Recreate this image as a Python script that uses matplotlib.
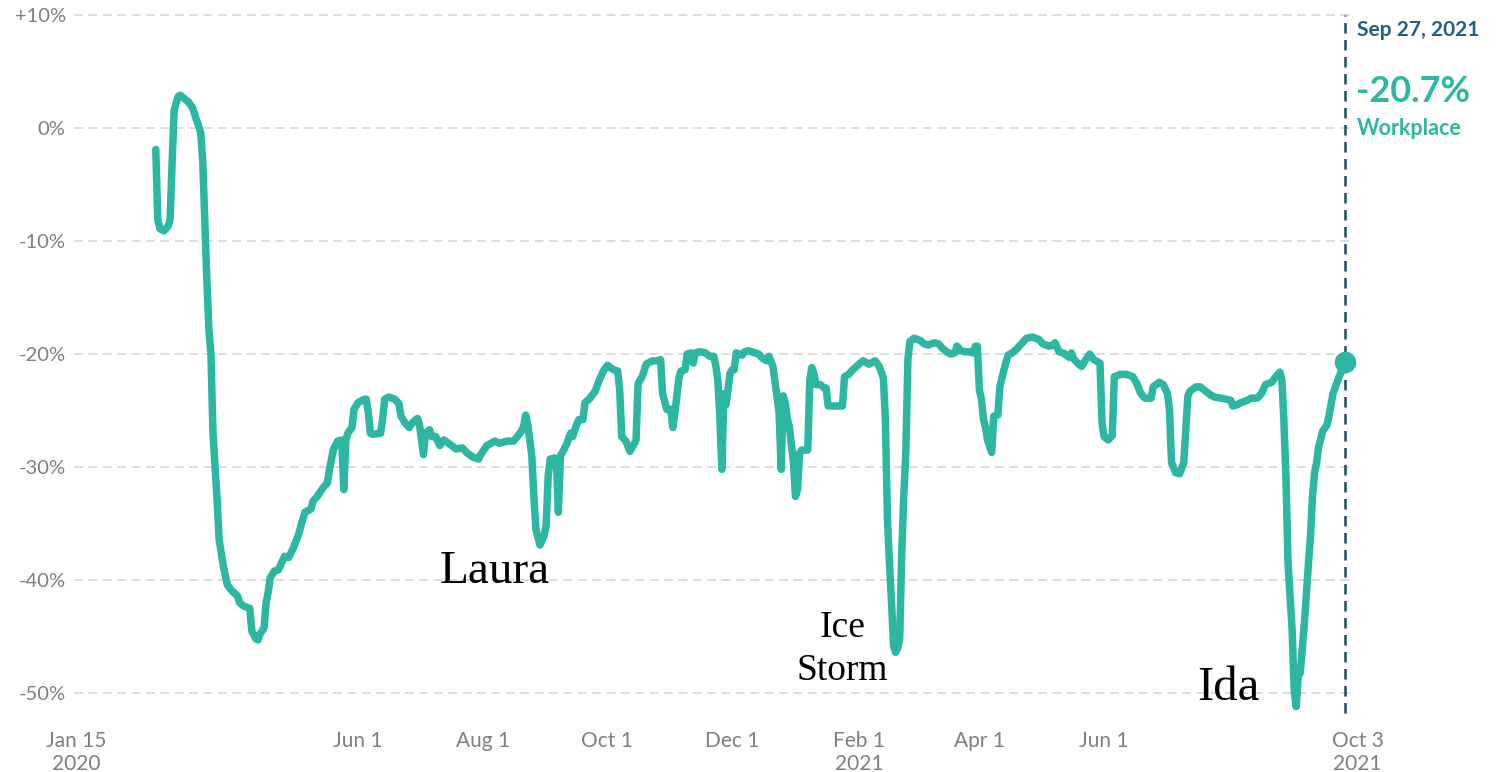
import matplotlib
matplotlib.use("Agg")
import matplotlib.pyplot as plt
import pandas as pd

# ---------------- data ----------------
dates_2020 = [
    "2020-02-23", "2020-02-24", "2020-02-25", "2020-02-27", "2020-02-29", "2020-03-01", "2020-03-02",
    "2020-03-03", "2020-03-05", "2020-03-06", "2020-03-08", "2020-03-10", "2020-03-12", "2020-03-14",
    "2020-03-16", "2020-03-17", "2020-03-18", "2020-03-19", "2020-03-20", "2020-03-21", "2020-03-22",
    "2020-03-24", "2020-03-25", "2020-03-27", "2020-03-29", "2020-03-31", "2020-04-03", "2020-04-04",
    "2020-04-06", "2020-04-09", "2020-04-10", "2020-04-12", "2020-04-13", "2020-04-14", "2020-04-16",
    "2020-04-17", "2020-04-18", "2020-04-19", "2020-04-21", "2020-04-23", "2020-04-26", "2020-04-28",
    "2020-04-30", "2020-05-03", "2020-05-04", "2020-05-06", "2020-05-09", "2020-05-10", "2020-05-12",
    "2020-05-15", "2020-05-17", "2020-05-18", "2020-05-20", "2020-05-22", "2020-05-24", "2020-05-25",
    "2020-05-26", "2020-05-27", "2020-05-29", "2020-05-30", "2020-06-01", "2020-06-04", "2020-06-05",
    "2020-06-06", "2020-06-07", "2020-06-08", "2020-06-12", "2020-06-13", "2020-06-14", "2020-06-16",
    "2020-06-19", "2020-06-21", "2020-06-22", "2020-06-24", "2020-06-26", "2020-06-28", "2020-06-30",
    "2020-07-01", "2020-07-03", "2020-07-04", "2020-07-06", "2020-07-07", "2020-07-09", "2020-07-11",
    "2020-07-13", "2020-07-16", "2020-07-19", "2020-07-22", "2020-07-24", "2020-07-27", "2020-07-30",
    "2020-07-31", "2020-08-03", "2020-08-07", "2020-08-09", "2020-08-13", "2020-08-16", "2020-08-18",
    "2020-08-20", "2020-08-21", "2020-08-22", "2020-08-23", "2020-08-25", "2020-08-26", "2020-08-27",
    "2020-08-29", "2020-08-31", "2020-09-01", "2020-09-02", "2020-09-03", "2020-09-05", "2020-09-06",
    "2020-09-07", "2020-09-08", "2020-09-09", "2020-09-11", "2020-09-13", "2020-09-14", "2020-09-16",
    "2020-09-17", "2020-09-19", "2020-09-20", "2020-09-22", "2020-09-25", "2020-09-27", "2020-09-29",
    "2020-10-01", "2020-10-04", "2020-10-06", "2020-10-07", "2020-10-08", "2020-10-10", "2020-10-12",
    "2020-10-14", "2020-10-15", "2020-10-16", "2020-10-18", "2020-10-20", "2020-10-23", "2020-10-25",
    "2020-10-27", "2020-10-28", "2020-10-30", "2020-11-01", "2020-11-02", "2020-11-03", "2020-11-05",
    "2020-11-06", "2020-11-08", "2020-11-09", "2020-11-11", "2020-11-12", "2020-11-13", "2020-11-15",
    "2020-11-18", "2020-11-20", "2020-11-22", "2020-11-23", "2020-11-24", "2020-11-25", "2020-11-26",
    "2020-11-27", "2020-11-28", "2020-11-30", "2020-12-01", "2020-12-02", "2020-12-03", "2020-12-06",
    "2020-12-07", "2020-12-09", "2020-12-12", "2020-12-14", "2020-12-16", "2020-12-18", "2020-12-19",
    "2020-12-21", "2020-12-24", "2020-12-25", "2020-12-26", "2020-12-27", "2020-12-28", "2020-12-29",
    "2020-12-30", "2020-12-31",
]
values_2020 = [
    -1.9, -8.1, -8.9, -9.1, -8.7, -8.1, -3.1,
    1.6, 2.8, 2.9, 2.6, 2.3, 1.8, 0.7,
    -0.4, -3.0, -8.1, -13.4, -17.8, -20.0, -27.0,
    -32.9, -36.4, -38.7, -40.4, -40.9, -41.4, -42.0,
    -42.3, -42.5, -44.5, -45.2, -45.3, -44.8, -44.2,
    -42.0, -41.1, -39.8, -39.2, -39.1, -37.9, -38.0,
    -37.3, -35.9, -35.2, -34.0, -33.7, -33.0, -32.6,
    -31.8, -31.4, -30.2, -28.4, -27.7, -27.6, -32.0,
    -27.6, -27.0, -26.5, -24.9, -24.3, -24.0, -24.0,
    -25.2, -27.0, -27.1, -27.0, -25.8, -24.0, -23.8,
    -24.0, -24.4, -25.5, -26.1, -26.5, -26.0, -25.7,
    -26.2, -28.9, -27.0, -26.7, -27.3, -27.3, -28.1,
    -27.6, -28.0, -28.4, -28.3, -28.7, -29.1, -29.3,
    -28.9, -28.1, -27.7, -27.9, -27.7, -27.7, -27.3,
    -26.8, -26.4, -25.4, -26.2, -29.0, -32.6, -35.5,
    -36.9, -36.1, -35.2, -30.8, -29.3, -29.2, -29.3,
    -34.0, -29.0, -28.7, -28.0, -27.0, -27.3, -26.2,
    -25.8, -25.8, -24.3, -24.0, -23.3, -22.3, -21.5,
    -21.0, -21.4, -21.5, -23.2, -27.3, -27.7, -28.6,
    -28.0, -27.6, -22.6, -22.0, -20.9, -20.6, -20.6,
    -20.5, -23.5, -24.9, -24.9, -26.5, -25.2, -22.1,
    -21.5, -21.4, -20.0, -19.9, -20.8, -19.9, -19.8,
    -19.9, -20.2, -20.2, -21.0, -22.3, -25.5, -30.2,
    -23.5, -24.5, -21.7, -21.4, -21.4, -19.9, -20.1,
    -19.8, -19.7, -19.9, -20.0, -20.4, -20.6, -20.2,
    -21.1, -25.2, -30.2, -23.7, -24.3, -25.7, -26.4,
    -28.0, -29.6,
]

dates_2021 = [
    "2021-01-01", "2021-01-02", "2021-01-03", "2021-01-04", "2021-01-07", "2021-01-08", "2021-01-09",
    "2021-01-10", "2021-01-11", "2021-01-13", "2021-01-15", "2021-01-16", "2021-01-17", "2021-01-19",
    "2021-01-24", "2021-01-25", "2021-01-27", "2021-01-29", "2021-02-01", "2021-02-03", "2021-02-06",
    "2021-02-09", "2021-02-11", "2021-02-13", "2021-02-14", "2021-02-15", "2021-02-16", "2021-02-17",
    "2021-02-18", "2021-02-19", "2021-02-20", "2021-02-21", "2021-02-22", "2021-02-23", "2021-02-24",
    "2021-02-25", "2021-02-26", "2021-02-28", "2021-03-03", "2021-03-05", "2021-03-07", "2021-03-10",
    "2021-03-12", "2021-03-14", "2021-03-16", "2021-03-18", "2021-03-20", "2021-03-21", "2021-03-23",
    "2021-03-25", "2021-03-27", "2021-03-29", "2021-03-30", "2021-03-31", "2021-04-01", "2021-04-02",
    "2021-04-03", "2021-04-04", "2021-04-05", "2021-04-07", "2021-04-08", "2021-04-10", "2021-04-11",
    "2021-04-13", "2021-04-15", "2021-04-17", "2021-04-19", "2021-04-22", "2021-04-24", "2021-04-27",
    "2021-04-30", "2021-05-02", "2021-05-05", "2021-05-07", "2021-05-08", "2021-05-10", "2021-05-12",
    "2021-05-15", "2021-05-16", "2021-05-17", "2021-05-19", "2021-05-21", "2021-05-23", "2021-05-25",
    "2021-05-27", "2021-05-30", "2021-05-31", "2021-06-01", "2021-06-03", "2021-06-05", "2021-06-06",
    "2021-06-09", "2021-06-12", "2021-06-15", "2021-06-17", "2021-06-19", "2021-06-21", "2021-06-24",
    "2021-06-25", "2021-06-28", "2021-06-30", "2021-07-02", "2021-07-03", "2021-07-04", "2021-07-06",
    "2021-07-08", "2021-07-10", "2021-07-11", "2021-07-12", "2021-07-13", "2021-07-16", "2021-07-18",
    "2021-07-20", "2021-07-23", "2021-07-25", "2021-07-28", "2021-07-31", "2021-08-02", "2021-08-03",
    "2021-08-05", "2021-08-07", "2021-08-10", "2021-08-12", "2021-08-15", "2021-08-17", "2021-08-19",
    "2021-08-22", "2021-08-24", "2021-08-26", "2021-08-27", "2021-08-28", "2021-08-29", "2021-08-30",
    "2021-09-01", "2021-09-02", "2021-09-03", "2021-09-04", "2021-09-05", "2021-09-07", "2021-09-09",
    "2021-09-10", "2021-09-11", "2021-09-12", "2021-09-13", "2021-09-14", "2021-09-16", "2021-09-18",
    "2021-09-19", "2021-09-21", "2021-09-24", "2021-09-27",
]
values_2021 = [
    -32.6, -32.0, -28.8, -28.5, -28.5, -22.3, -21.2,
    -21.7, -22.7, -22.7, -23.0, -23.0, -24.6, -24.6,
    -24.6, -22.0, -21.8, -21.4, -20.9, -20.6, -20.9,
    -20.6, -21.1, -22.1, -25.8, -34.6, -38.5, -42.0,
    -45.8, -46.4, -46.0, -45.2, -37.6, -32.5, -28.7,
    -20.5, -18.9, -18.6, -18.8, -19.1, -19.2, -19.0,
    -19.1, -19.5, -19.8, -20.0, -19.9, -19.3, -19.7,
    -19.8, -19.8, -19.9, -19.3, -19.3, -23.2, -24.0,
    -25.8, -26.5, -27.6, -28.7, -25.5, -25.4, -22.9,
    -21.4, -20.1, -19.9, -19.6, -19.0, -18.6, -18.5,
    -18.7, -19.1, -19.3, -19.2, -19.0, -19.8, -19.9,
    -20.3, -19.9, -20.4, -20.8, -21.1, -20.5, -20.0,
    -20.5, -20.8, -26.1, -27.3, -27.6, -27.2, -22.0,
    -21.8, -21.8, -22.0, -22.6, -23.5, -23.9, -23.9,
    -22.9, -22.5, -22.7, -23.5, -24.9, -29.6, -30.5,
    -30.6, -29.6, -26.7, -23.7, -23.3, -22.9, -22.9,
    -23.2, -23.6, -23.8, -23.9, -24.0, -24.1, -24.6,
    -24.5, -24.3, -24.1, -23.9, -23.9, -23.5, -22.7,
    -22.5, -22.0, -21.6, -22.3, -26.0, -31.0, -38.5,
    -44.4, -49.7, -51.2, -48.5, -48.2, -43.8, -38.5,
    -36.1, -32.5, -30.5, -29.6, -28.2, -26.8, -26.3,
    -25.5, -23.5, -22.0, -20.7,
]

y_ticks = [10, 0, -10, -20, -30, -40, -50]
y_tick_labels = ["+10%", "0%", "-10%", "-20%", "-30%", "-40%", "-50%"]
x_tick_dates = ["2020-01-15", "2020-06-01", "2020-08-01", "2020-10-01", "2020-12-01",
                "2021-02-01", "2021-04-01", "2021-06-01", "2021-10-03"]
x_tick_labels = ["Jan 15\n2020", "Jun 1", "Aug 1", "Oct 1", "Dec 1",
                 "Feb 1\n2021", "Apr 1", "Jun 1", "Oct 3\n2021"]

events = ["Laura", "Ice\nStorm", "Ida"]
event_dates = ["2020-08-07", "2021-01-24", "2021-08-01"]

last_date_label = "Sep 27, 2021"
last_value_label = "-20.7%"
series_name = "Workplace"

# ---------------- drawing ----------------
TEAL = "#2db7a3"
NAVY = "#1c4a60"
GRAY = "#7f7f7f"

W, H = 1506, 772
fig = plt.figure(figsize=(W / 100, H / 100), dpi=100)
ax = fig.add_axes([74 / W, (H - 727) / H, (1380 - 74) / W, (727 - 3.7) / H])

x = pd.to_datetime(dates_2020 + dates_2021)
y = values_2020 + values_2021

x_left = pd.Timestamp("2020-01-14")
x_right = pd.Timestamp("2021-10-14")
ax.set_xlim(x_left, x_right)
ax.set_ylim(-53, 11)

# grid lines
ax.hlines(y_ticks, x_left, pd.Timestamp("2021-09-30"), colors="#dddddd",
          linewidth=1.4, linestyles=(0, (4.6, 2.8)), zorder=1)

ax.plot(x, y, color=TEAL, linewidth=5.4, solid_capstyle="round",
        solid_joinstyle="round", zorder=3)

end_x = x[-1]
end_y = y[-1]
ax.plot([end_x], [end_y], "o", color=TEAL, markersize=14.5, zorder=4)

ax.vlines(end_x, -51.8, 10, colors=NAVY, linewidth=1.8,
          linestyles=(0, (4.2, 2.6)), zorder=2)

# spines / ticks
for s in ax.spines.values():
    s.set_visible(False)
ax.set_yticks(y_ticks)
ax.set_yticklabels(y_tick_labels, fontsize=14.5, color=GRAY, family="Lato")
ax.set_xticks(pd.to_datetime(x_tick_dates))
ax.set_xticklabels(x_tick_labels, fontsize=15, color=GRAY, family="Lato",
                   linespacing=1.2)
ax.tick_params(axis="y", length=0, pad=6)
ax.tick_params(axis="x", length=0, pad=3)

# end annotations
ax.annotate(last_date_label, xy=(end_x, 8.7), xytext=(12, 0),
            textcoords="offset pixels", ha="left", va="center",
            fontsize=15, fontweight="bold", color="#255f7c", family="Lato")
ax.annotate(last_value_label, xy=(end_x, 3.2), xytext=(11, 0),
            textcoords="offset pixels", ha="left", va="center",
            fontsize=26, fontweight="bold", color=TEAL, family="Lato")
ax.annotate(series_name, xy=(end_x, 0.0), xytext=(12, 0),
            textcoords="offset pixels", ha="left", va="center",
            fontsize=15.5, fontweight="bold", color=TEAL, family="Lato")

# event labels
ax.text(pd.Timestamp(event_dates[0]), -40.3, events[0], ha="center", va="baseline",
        fontsize=34, family="Liberation Serif", color="black")
ax.text(pd.Timestamp(event_dates[1]), -48.8, events[1], ha="center", va="baseline",
        fontsize=27, family="Liberation Serif", color="black", linespacing=1.32)
ax.text(pd.Timestamp(event_dates[2]), -50.6, events[2], ha="center", va="baseline",
        fontsize=35, family="Liberation Serif", color="black")

fig.savefig("out.png", dpi=100, facecolor="white")
